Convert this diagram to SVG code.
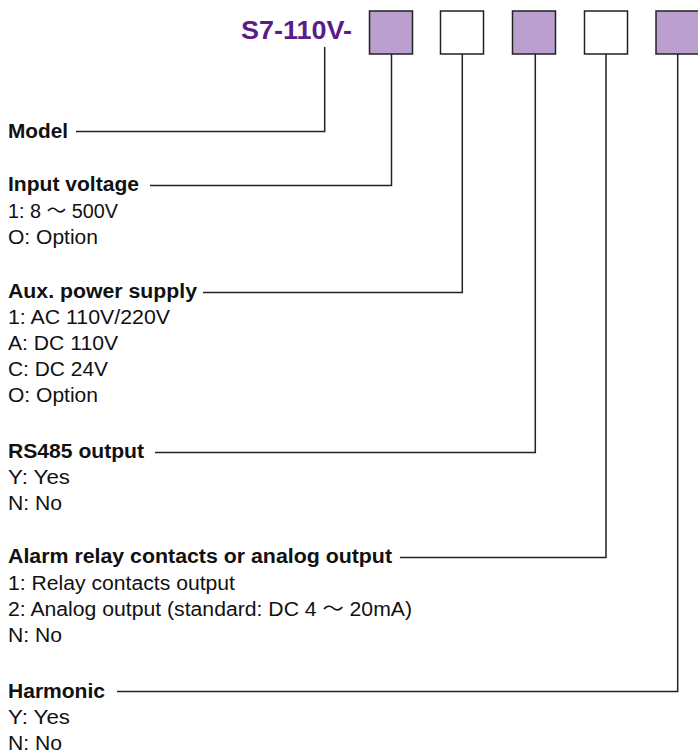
<svg xmlns="http://www.w3.org/2000/svg" width="698" height="753" viewBox="0 0 698 753">
<style>
text{font-family:"Liberation Sans",Arial,"Noto Sans CJK SC",sans-serif;fill:#111;font-size:20px}
.h{font-weight:bold}
.title{font-weight:bold;font-size:26px;fill:#5a1c8a}
.box{stroke:#222;stroke-width:1.5}
.p{fill:#bba0cf}
.w{fill:#fff}
.ln{fill:none;stroke:#222;stroke-width:1.5}
</style>
<rect width="698" height="753" fill="#fff"/>
<g id="title"><text class="title" x="241" y="39" textLength="111" lengthAdjust="spacingAndGlyphs">S7-110V-</text></g>
<g id="boxes">
<rect id="box1" class="box p" x="369.5" y="11" width="43" height="43"/>
<rect id="box2" class="box w" x="440.5" y="11" width="43" height="43"/>
<rect id="box3" class="box p" x="512.5" y="11" width="43" height="43"/>
<rect id="box4" class="box w" x="584.5" y="11" width="43" height="43"/>
<rect id="box5" class="box p" x="656" y="11" width="44" height="43"/>
</g>
<g id="connectors">
<polyline class="ln" points="324.7,47 324.7,131.5 76,131.5"/>
<polyline class="ln" points="391.5,54 391.5,185.5 150,185.5"/>
<polyline class="ln" points="462.3,54 462.3,292.5 203,292.5"/>
<polyline class="ln" points="535.3,54 535.3,452.5 155,452.5"/>
<polyline class="ln" points="606,54 606,557.5 400,557.5"/>
<polyline class="ln" points="677.7,54 677.7,691.5 117,691.5"/>
</g>
<g id="model"><text class="h" x="8" y="137.5" textLength="60" lengthAdjust="spacingAndGlyphs">Model</text></g>
<g id="input-voltage">
<text class="h" x="8" y="191" textLength="131" lengthAdjust="spacingAndGlyphs">Input voltage</text>
<text x="8" y="217.5" textLength="110" lengthAdjust="spacingAndGlyphs">1: 8 ～ 500V</text>
<text x="8" y="243.5" textLength="90" lengthAdjust="spacingAndGlyphs">O: Option</text>
</g>
<g id="aux-power">
<text class="h" x="8" y="298" textLength="189" lengthAdjust="spacingAndGlyphs">Aux. power supply</text>
<text x="8" y="324" textLength="162" lengthAdjust="spacingAndGlyphs">1: AC 110V/220V</text>
<text x="8" y="350" textLength="110" lengthAdjust="spacingAndGlyphs">A: DC 110V</text>
<text x="8" y="376" textLength="100" lengthAdjust="spacingAndGlyphs">C: DC 24V</text>
<text x="8" y="402" textLength="90" lengthAdjust="spacingAndGlyphs">O: Option</text>
</g>
<g id="rs485">
<text class="h" x="8" y="457.5" textLength="136" lengthAdjust="spacingAndGlyphs">RS485 output</text>
<text x="8" y="483.5" textLength="62" lengthAdjust="spacingAndGlyphs">Y: Yes</text>
<text x="8" y="509.5" textLength="54" lengthAdjust="spacingAndGlyphs">N: No</text>
</g>
<g id="alarm">
<text class="h" x="8" y="563" textLength="384" lengthAdjust="spacingAndGlyphs">Alarm relay contacts or analog output</text>
<text x="8" y="589.5" textLength="227" lengthAdjust="spacingAndGlyphs">1: Relay contacts output</text>
<text x="8" y="616" textLength="404" lengthAdjust="spacingAndGlyphs">2: Analog output (standard: DC 4 ～ 20mA)</text>
<text x="8" y="641.5" textLength="54" lengthAdjust="spacingAndGlyphs">N: No</text>
</g>
<g id="harmonic">
<text class="h" x="8" y="697.5" textLength="97" lengthAdjust="spacingAndGlyphs">Harmonic</text>
<text x="8" y="723.5" textLength="62" lengthAdjust="spacingAndGlyphs">Y: Yes</text>
<text x="8" y="749.5" textLength="54" lengthAdjust="spacingAndGlyphs">N: No</text>
</g>
</svg>
